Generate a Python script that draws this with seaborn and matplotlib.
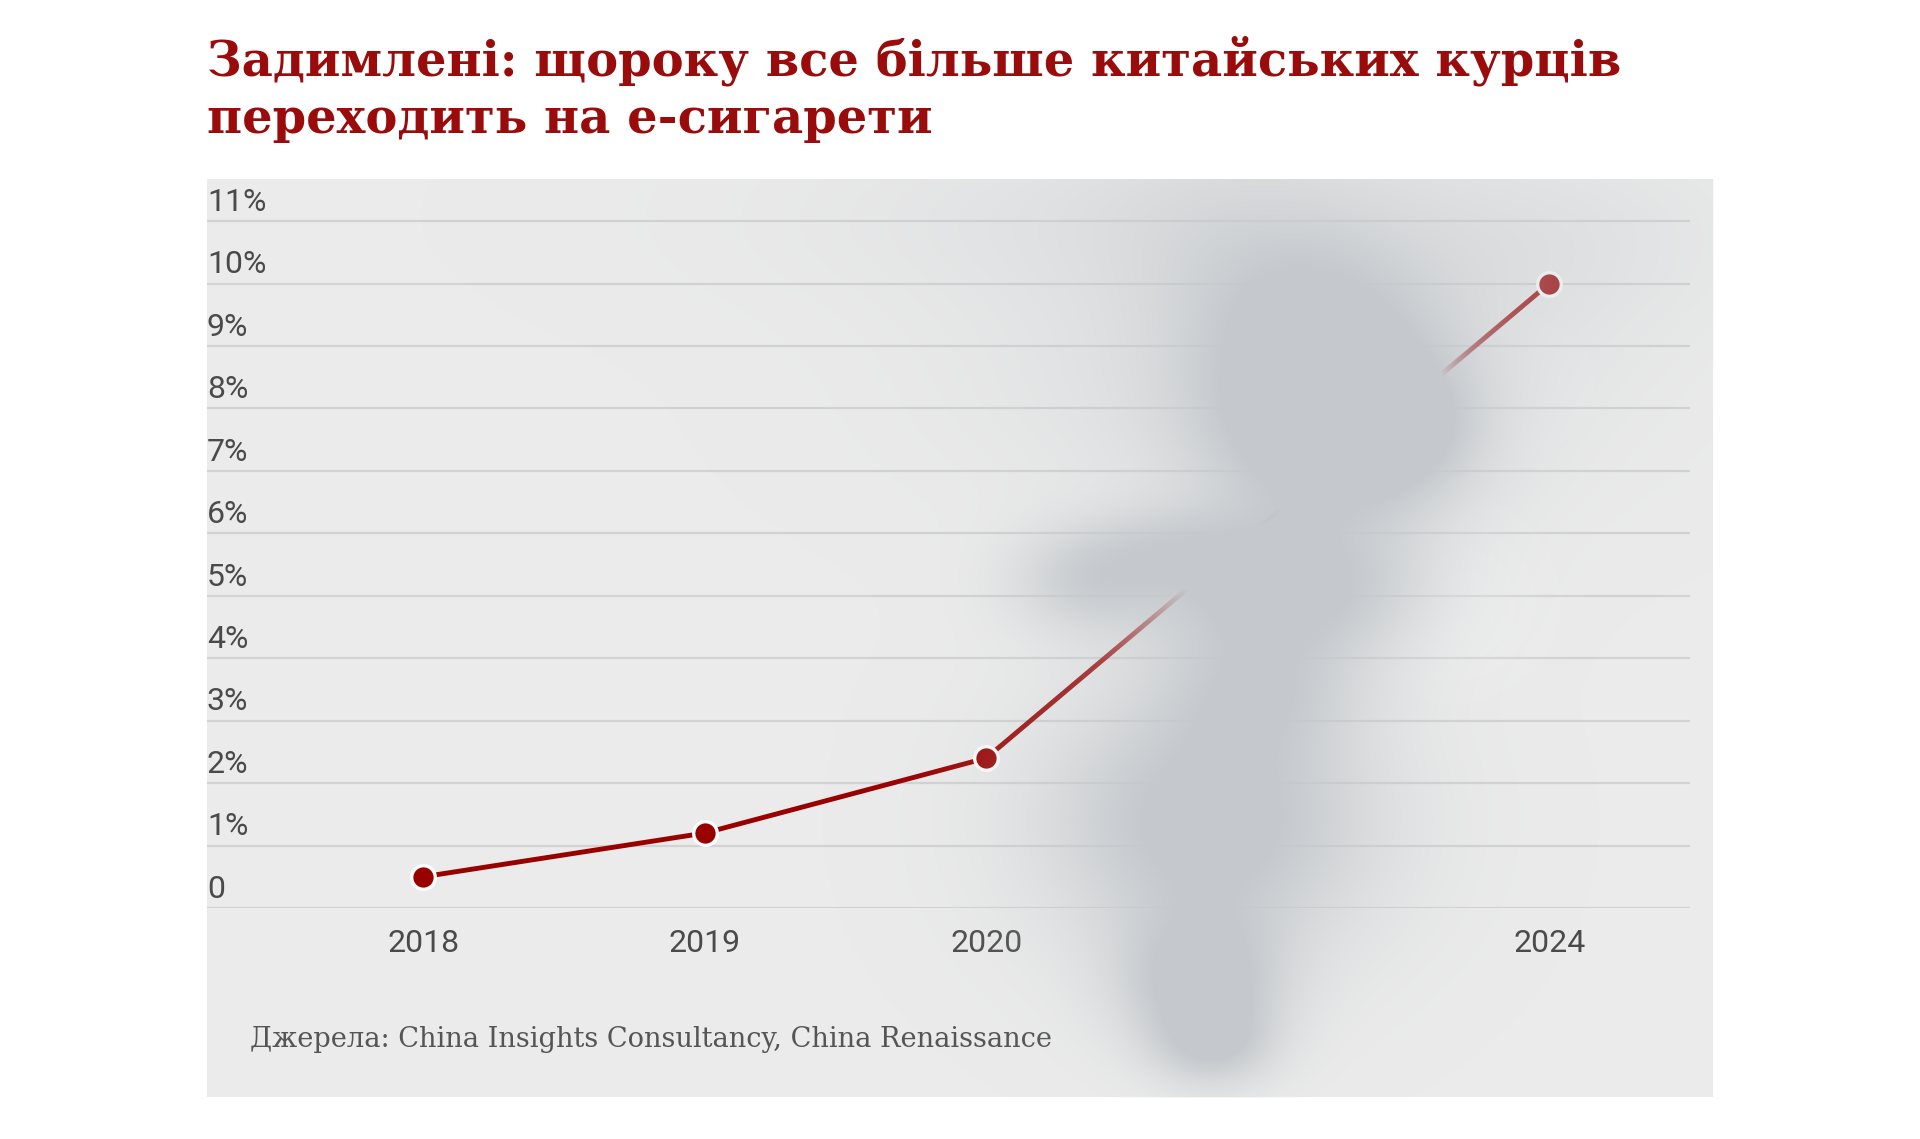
import numpy as np
import pandas as pd
import matplotlib
matplotlib.use("Agg")
import matplotlib.pyplot as plt
import matplotlib.transforms as mtransforms
import seaborn as sns
from matplotlib.patches import Rectangle

# ---------------- data ----------------
years = [2018, 2019, 2020, 2024]
share = [0.5, 1.2, 2.4, 10.0]          # % of Chinese smokers using e-cigarettes
x_tick_labels = ["2018", "2019", "2020", "2024"]
y_ticks = list(range(0, 12))
y_tick_labels = ["0"] + [f"{v}%" for v in y_ticks[1:]]
title_lines = ["Задимлені: щороку все більше китайських курців",
               "переходить на е-сигарети"]
source_text = "Джерела: China Insights Consultancy, China Renaissance"

# ---------------- style ----------------
sns.set_style("white")
plt.rcParams["font.family"] = ["Roboto", "DejaVu Sans"]

RED = "#990000"
TITLE_RED = "#9a0b0b"
PANEL = "#ebebeb"
GRID = "#d2d2d2"
TXT = "#4a4a4a"

W, H = 1920, 1139
fig = plt.figure(figsize=(W / 100, H / 100), dpi=100)
fig.patch.set_facecolor("white")

# grey panel behind the chart
panel = (207, 179, 1713, 1097)  # left, top, right, bottom in px
fig.patches.append(Rectangle((panel[0] / W, 1 - panel[3] / H),
                             (panel[2] - panel[0]) / W, (panel[3] - panel[1]) / H,
                             transform=fig.transFigure, facecolor=PANEL,
                             edgecolor="none", zorder=-1))

# main axes
y0_px, unit_px = 908, 62.45
ymax = 11.5
ax = fig.add_axes([207 / W, (H - y0_px) / H, (1690 - 207) / W, ymax * unit_px / H])
ax.set_zorder(1)
ax.patch.set_visible(False)


def fwd(x):
    x = np.asarray(x, dtype=float)
    return np.where(x <= 2020, x - 2018, 2 + (x - 2020) / 2)


def inv(p):
    p = np.asarray(p, dtype=float)
    return np.where(p <= 2, p + 2018, 2020 + 2 * (p - 2))


df = pd.DataFrame({"year": years, "share": share})
sns.lineplot(data=df, x="year", y="share", ax=ax, color=RED, linewidth=3.5,
             marker="o", markersize=17, markerfacecolor=RED,
             markeredgecolor="white", markeredgewidth=2.4, zorder=3)

ax.set_xscale("function", functions=(fwd, inv))
ax.set_xlim(float(inv(-0.768)), 2025)
ax.set_ylim(0, ymax)
ax.set_xlabel("")
ax.set_ylabel("")

ax.set_xticks(years)
ax.set_xticklabels(x_tick_labels)
ax.set_yticks(y_ticks)
ax.set_yticklabels(y_tick_labels)
ax.tick_params(axis="x", length=0, pad=15, labelsize=23, labelcolor=TXT)
ax.tick_params(axis="y", length=0, pad=0, labelsize=23, labelcolor=TXT)
lift = mtransforms.ScaledTranslation(0, 3 / 72, fig.dpi_scale_trans)
for lbl in ax.get_yticklabels():
    lbl.set_horizontalalignment("left")
    lbl.set_verticalalignment("bottom")
    lbl.set_transform(lbl.get_transform() + lift)

ax.yaxis.grid(True, color=GRID, linewidth=1.6)
ax.xaxis.grid(False)
ax.set_axisbelow(True)
for s in ax.spines.values():
    s.set_visible(False)

# title & source
fig.text(207 / W, 1 - 75 / H, title_lines[0], fontfamily="DejaVu Serif",
         fontweight="bold", fontsize=34.6, color=TITLE_RED, ha="left", va="baseline")
fig.text(207 / W, 1 - 133 / H, title_lines[1], fontfamily="DejaVu Serif",
         fontweight="bold", fontsize=34.6, color=TITLE_RED, ha="left", va="baseline")
fig.text(250 / W, 1 - 1047 / H, source_text, fontfamily="DejaVu Serif",
         fontsize=19.6, color="#555555", ha="left", va="baseline")

# ---------------- decorative smoke overlay ----------------
yy, xx = np.mgrid[0:H, 0:W].astype(np.float32)


def blob_field(blobs):
    f = np.zeros((H, W), dtype=np.float32)
    for cx, cy, sx, sy, amp in blobs:
        f += amp * np.exp(-0.5 * (((xx - cx) / sx) ** 2 + ((yy - cy) / sy) ** 2))
    return f


smoke_blobs = [
    # cx, cy, sx, sy, amp
    (1250, 215, 280, 70, 0.35),   # wide top haze
    (1230, 200, 100, 60, 0.15),   # slightly darker top plume
    (1560, 260, 110, 70, 0.15),   # haze near 2024
    (1280, 380, 200, 90, 0.40),   # broad upper cloud
    (1300, 300, 90, 55, 0.50),    # upper plume
    (1330, 420, 90, 75, 1.40),    # core
    (1400, 430, 50, 45, 0.50),    # right lobe
    (1285, 590, 95, 50, 1.15),    # middle band
    (1085, 580, 55, 38, 0.75),    # left bulge
    (1170, 545, 60, 30, 0.45),    # bulge-to-middle bridge
    (1260, 690, 70, 45, 0.60),    # joint
    (1210, 820, 115, 95, 1.30),   # lower body
    (1200, 985, 58, 48, 1.10),    # tail
    (1213, 1045, 42, 30, 0.80),   # tail end
]
S = blob_field(smoke_blobs)
alpha = np.clip(S / 1.1, 0, 1)
inside = (xx >= panel[0]) & (xx <= panel[2]) & (yy >= panel[1]) & (yy <= panel[3])
alpha = np.where(inside, alpha, 0)

glow = blob_field([(1445, 600, 60, 55, 0.55), (1500, 380, 70, 60, 0.25)])
glow = np.where(inside, np.clip(glow, 0, 1) * (1 - alpha), 0)

smoke_rgba = np.zeros((H, W, 4), dtype=np.float32)
smoke_rgba[..., 0] = 0.776
smoke_rgba[..., 1] = 0.792
smoke_rgba[..., 2] = 0.804
smoke_rgba[..., 3] = alpha

glow_rgba = np.ones((H, W, 4), dtype=np.float32)
glow_rgba[..., 3] = glow * 0.6

sax = fig.add_axes([0, 0, 1, 1], zorder=10)
sax.imshow(glow_rgba, extent=(0, W, H, 0), interpolation="nearest", aspect="auto")
sax.imshow(smoke_rgba, extent=(0, W, H, 0), interpolation="nearest", aspect="auto")
sax.set_xlim(0, W)
sax.set_ylim(H, 0)
sax.axis("off")

fig.savefig("out.png", dpi=100)
